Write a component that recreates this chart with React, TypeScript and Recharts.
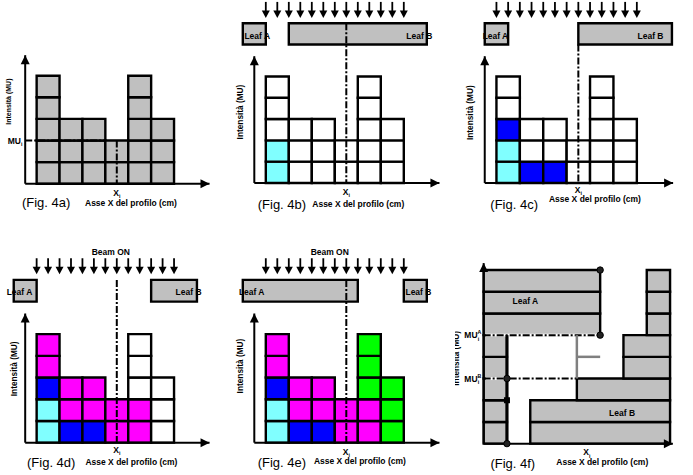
import React from 'react';
import { ComposedChart, XAxis, YAxis, ReferenceArea, ReferenceLine, Scatter } from 'recharts';

const FONT = "'Liberation Sans', Arial, Helvetica, sans-serif";

// colour codes used in the cell strings
const cellColors: Record<string, string> = {
  g: '#c0c0c0',
  w: '#ffffff',
  c: '#80ffff',
  b: '#0000ff',
  m: '#ff00ff',
  n: '#00ff00',
};

// intensity profile: one string per column, bottom row first
const profile4a = ['ggggg', 'ggg', 'ggg', 'gg', 'ggggg', 'ggg'];
const profile4b = ['ccwww', 'www', 'www', 'ww', 'wwwww', 'www'];
const profile4c = ['ccbww', 'bww', 'bww', 'ww', 'wwwww', 'www'];
const profile4d = ['ccbmm', 'bmm', 'bmm', 'mm', 'mmwww', 'www'];
const profile4e = ['ccbmm', 'bmm', 'bmm', 'mm', 'mmnnn', 'nnn'];

const beamArrowX = [0, 0.5, 1, 1.5, 2, 2.5, 3, 3.5, 4, 4.5, 5, 5.5, 6];
const xiPos = 3.5;
const muLevel4a = 2;

// leaf positions [left, right] in cell units
const leafA4b = [-1, 0];
const leafB4b = [1, 7];
const leafA4c = [-0.5, 0.5];
const leafB4c = [3.5, 7.5];
const leafA4d = [-1, 0];
const leafB4d = [5, 7];
const leafA4e = [-1, 4];
const leafB4e = [6, 7];

// fig 4f: leaf A right edge and leaf B left edge for each MU row
const leafAEnd4f = [1, 1, 1, 1, 1, 5, 5, 5];
const leafBStart4f = [2, 2, 4, 6, 6, 7, 7, 7];
const fieldEnd4f = 8;
const muA4f = 5;
const muB4f = 3;

type Geo = { x0: number; y0: number; cw: number; rh: number; xDomain: [number, number] };
type Label = {
  x: number;
  y: number;
  text: string;
  size: number;
  bold?: boolean;
  anchor?: string;
  rotate?: number;
  sub?: string;
  sup?: string;
};

const yDomain: [number, number] = [-1.6, 9.2];
const LEAF_Y: [number, number] = [6.5, 7.5];

const TextMark = (props: any) => {
  const { cx, cy, payload: d } = props;
  const small = d.size * 0.62;
  return (
    <text
      x={cx}
      y={cy}
      textAnchor={d.anchor || 'middle'}
      dominantBaseline="central"
      fontFamily={FONT}
      fontSize={d.size}
      fontWeight={d.bold ? 700 : 400}
      fill="#000"
      transform={d.rotate ? `rotate(${d.rotate} ${cx} ${cy})` : undefined}
    >
      {d.text}
      {d.sup && (
        <tspan fontSize={small} dy={-d.size * 0.35}>
          {d.sup}
        </tspan>
      )}
      {d.sub && (
        <tspan fontSize={small} dx={d.sup ? -small * 0.7 : 0} dy={d.sup ? d.size * 0.8 : d.size * 0.4}>
          {d.sub}
        </tspan>
      )}
    </text>
  );
};

const BeamArrow = (p: any) => (
  <g>
    <line x1={p.cx} y1={p.cy} x2={p.cx} y2={p.cy + 10} stroke="#000" strokeWidth={1.8} />
    <polygon points={`${p.cx - 4},${p.cy + 8.5} ${p.cx + 4},${p.cy + 8.5} ${p.cx},${p.cy + 16}`} fill="#000" />
  </g>
);

const AxisHead = (p: any) => {
  const { cx, cy, payload } = p;
  const pts =
    payload.dir === 'up'
      ? `${cx},${cy} ${cx - 4.5},${cy + 9} ${cx + 4.5},${cy + 9}`
      : `${cx},${cy} ${cx - 9},${cy - 4.5} ${cx - 9},${cy + 4.5}`;
  return <polygon points={pts} fill="#000" />;
};

const Marker = (p: any) => {
  const { cx, cy, payload } = p;
  if (payload.kind === 'sq') return <rect x={cx - 3} y={cy - 3} width={6} height={6} fill="#000" />;
  return <circle cx={cx} cy={cy} r={3.2} fill="#222" stroke="#000" strokeWidth={1} />;
};

const seg = (key: string, x1: number, y1: number, x2: number, y2: number, stroke = '#000', width = 2, dash?: string) => (
  <ReferenceLine
    key={key}
    segment={[{ x: x1, y: y1 }, { x: x2, y: y2 }]}
    stroke={stroke}
    strokeWidth={width}
    strokeDasharray={dash}
    ifOverflow="visible"
  />
);

const box = (key: string, x1: number, x2: number, y1: number, y2: number, fill: string, width = 2.4) => (
  <ReferenceArea
    key={key}
    x1={x1}
    x2={x2}
    y1={y1}
    y2={y2}
    fill={fill}
    fillOpacity={1}
    stroke="#000"
    strokeWidth={width}
    ifOverflow="visible"
  />
);

const cellAreas = (profile: string[]) =>
  profile.flatMap((col, i) => col.split('').map((k, j) => box(`c${i}-${j}`, i, i + 1, j, j + 1, cellColors[k])));

const DASH = '7 2 2 2';

function Frame({ geo, children }: { geo: Geo; children: React.ReactNode }) {
  const [d0, d1] = geo.xDomain;
  const width = (d1 - d0) * geo.cw;
  const height = (yDomain[1] - yDomain[0]) * geo.rh;
  const left = geo.x0 + d0 * geo.cw;
  const top = geo.y0 - yDomain[1] * geo.rh;
  return (
    <div style={{ position: 'absolute', left, top, width, height }}>
      <ComposedChart width={width} height={height} margin={{ top: 0, right: 0, bottom: 0, left: 0 }}>
        <XAxis type="number" dataKey="x" domain={geo.xDomain} hide allowDataOverflow />
        <YAxis type="number" dataKey="y" domain={yDomain} hide allowDataOverflow />
        {children}
      </ComposedChart>
    </div>
  );
}

type GridCfg = {
  geo: Geo;
  profile: string[];
  leafA?: number[];
  leafB?: number[];
  dashTop: number;
  labels: Label[];
  muLine?: number;
};

function GridPanel({ cfg }: { cfg: GridCfg }) {
  const heads = [
    { x: 7.55, y: 0, dir: 'right' },
    { x: -0.5, y: 5.95, dir: 'up' },
  ];
  return (
    <Frame geo={cfg.geo}>
      {cellAreas(cfg.profile)}
      {cfg.leafA && box('la', cfg.leafA[0], cfg.leafA[1], LEAF_Y[0], LEAF_Y[1], cellColors.g)}
      {cfg.leafB && box('lb', cfg.leafB[0], cfg.leafB[1], LEAF_Y[0], LEAF_Y[1], cellColors.g)}
      {seg('ax', -0.5, 0, 7.55, 0)}
      {seg('ay', -0.5, 0, -0.5, 5.95)}
      {cfg.muLine !== undefined && seg('mu', -0.5, cfg.muLine, 3, cfg.muLine, '#000', 2, DASH)}
      {seg('xi', xiPos, cfg.dashTop, xiPos, 0, '#000', 2, DASH)}
      <Scatter data={heads} shape={AxisHead} isAnimationActive={false} />
      {cfg.leafA && (
        <Scatter data={beamArrowX.map((x) => ({ x, y: 8.5 }))} shape={BeamArrow} isAnimationActive={false} />
      )}
      <Scatter data={cfg.labels} shape={TextMark} isAnimationActive={false} />
    </Frame>
  );
}

const yLabel = (x: number, y: number, size = 8.3): Label => ({
  x,
  y,
  text: 'Intensità (MU)',
  size,
  bold: true,
  rotate: -90,
});
const xiLabel = (x: number, y: number): Label => ({ x, y, text: 'X', sub: 'i', size: 8.5, bold: true });
const caption = (x: number, y: number, fig: string): Label => ({ x, y, text: `(Fig. ${fig})`, size: 13, anchor: 'start' });
const axisTitle = (x: number, y: number): Label => ({ x, y, text: 'Asse X del profilo (cm)', size: 8.5, bold: true });
const leafText = (x: number, y: number, text: string, anchor: string): Label => ({
  x,
  y,
  text,
  size: 8.5,
  bold: true,
  anchor,
});
const beamOn = (x: number): Label => ({ x, y: 8.78, text: 'Beam ON', size: 8.5, bold: true });

const panels: GridCfg[] = [
  {
    geo: { x0: 36.7, y0: 184, cw: 22.9, rh: 21.6, xDomain: [-1.6, 8.4] },
    profile: profile4a,
    dashTop: muLevel4a,
    muLine: muLevel4a,
    labels: [
      { x: -0.62, y: muLevel4a, text: 'MU', sub: 'i', size: 8.5, bold: true, anchor: 'end' },
      xiLabel(xiPos, -0.42),
      caption(-0.64, -0.88, '4a'),
      axisTitle(4.12, -0.88),
      yLabel(-1.23, 3.8, 7),
    ],
  },
  {
    geo: { x0: 266, y0: 183, cw: 23, rh: 21.3, xDomain: [-1.6, 8.4] },
    profile: profile4b,
    leafA: leafA4b,
    leafB: leafB4b,
    dashTop: LEAF_Y[1],
    labels: [
      leafText(-0.93, 6.9, 'Leaf A', 'start'),
      leafText(7.24, 6.9, 'Leaf B', 'end'),
      xiLabel(xiPos, -0.42),
      caption(-0.35, -0.99, '4b'),
      axisTitle(4.02, -0.99),
      yLabel(-1.11, 3.33),
    ],
  },
  {
    geo: { x0: 496, y0: 183, cw: 23.4, rh: 21.3, xDomain: [-1.6, 8.4] },
    profile: profile4c,
    leafA: leafA4c,
    leafB: leafB4c,
    dashTop: LEAF_Y[0],
    labels: [
      leafText(-0.59, 6.9, 'Leaf A', 'start'),
      leafText(7.14, 6.9, 'Leaf B', 'end'),
      xiLabel(xiPos, -0.33),
      caption(-0.26, -0.99, '4c'),
      axisTitle(4.21, -0.74),
      yLabel(-1.11, 3.3),
    ],
  },
  {
    geo: { x0: 36.7, y0: 443, cw: 22.9, rh: 21.7, xDomain: [-1.6, 8.4] },
    profile: profile4d,
    leafA: leafA4d,
    leafB: leafB4d,
    dashTop: LEAF_Y[1],
    labels: [
      beamOn(3.24),
      leafText(-1.31, 6.93, 'Leaf A', 'start'),
      leafText(7.2, 6.93, 'Leaf B', 'end'),
      xiLabel(xiPos, -0.32),
      caption(-0.42, -0.92, '4d'),
      axisTitle(4.14, -0.88),
      yLabel(-0.97, 3.4),
    ],
  },
  {
    geo: { x0: 266, y0: 443, cw: 23, rh: 21.7, xDomain: [-1.6, 8.4] },
    profile: profile4e,
    leafA: leafA4e,
    leafB: leafB4e,
    dashTop: LEAF_Y[1],
    labels: [
      beamOn(2.78),
      leafText(-1.17, 6.93, 'Leaf A', 'start'),
      leafText(7.2, 6.93, 'Leaf B', 'end'),
      xiLabel(xiPos, -0.41),
      caption(-0.35, -0.92, '4e'),
      axisTitle(4.09, -0.83),
      yLabel(-1.11, 3.53),
    ],
  },
];

function LeafTrajectoryPanel() {
  const geo: Geo = { x0: 483.3, y0: 443.3, cw: 23.3, rh: 21.7, xDomain: [-1.23, 8.77] };
  const rowsA = leafAEnd4f.map((end, r) => box(`a${r}`, 0, end, r, r + 1, cellColors.g));
  const rowsB = leafBStart4f.map((start, r) => box(`b${r}`, start, fieldEnd4f, r, r + 1, cellColors.g));
  const heads = [
    { x: 8.12, y: 0, dir: 'right' },
    { x: 0, y: 8.32, dir: 'up' },
  ];
  const markers = [
    { x: leafAEnd4f[7], y: 8, kind: 'dot' },
    { x: leafAEnd4f[7], y: muA4f, kind: 'dot' },
    { x: leafAEnd4f[0], y: muB4f, kind: 'dot' },
    { x: leafAEnd4f[0], y: 0, kind: 'dot' },
    { x: leafAEnd4f[0], y: 2, kind: 'sq' },
  ];
  const labels: Label[] = [
    { x: -0.1, y: muA4f, text: 'MU', sup: 'A', sub: 'i', size: 8.5, bold: true, anchor: 'end' },
    { x: -0.1, y: muB4f, text: 'MU', sup: 'B', sub: 'i', size: 8.5, bold: true, anchor: 'end' },
    { x: 1.79, y: 6.56, text: 'Leaf A', size: 8.5, bold: true },
    { x: 5.94, y: 1.43, text: 'Leaf B', size: 8.5, bold: true },
    xiLabel(4.43, -0.4),
    caption(0.29, -0.91, '4f'),
    axisTitle(5.09, -0.85),
    yLabel(-1.2, 3.93),
  ];
  return (
    <Frame geo={geo}>
      {rowsA}
      {rowsB}
      {seg('ax', 0, 0, 8.12, 0)}
      {seg('ay', 0, 0, 0, 8.32)}
      {seg('wa', 0.08, muA4f, 5, muA4f, '#fff', 3)}
      {seg('wb', 0.08, muB4f, 1, muB4f, '#fff', 3)}
      {seg('mua', 0, muA4f, leafAEnd4f[7], muA4f, '#000', 2, DASH)}
      {seg('mub', 0, muB4f, leafBStart4f[2], muB4f, '#000', 2, DASH)}
      {seg('edge', leafAEnd4f[0], 0, leafAEnd4f[0], muA4f, '#000', 3)}
      {seg('gv', leafBStart4f[2], muB4f, leafBStart4f[2], muA4f, '#808080', 2.5)}
      {seg('gh', leafBStart4f[2], 4, leafAEnd4f[7], 4, '#808080', 2.5)}
      <Scatter data={heads} shape={AxisHead} isAnimationActive={false} />
      <Scatter data={markers} shape={Marker} isAnimationActive={false} />
      <Scatter data={labels} shape={TextMark} isAnimationActive={false} />
    </Frame>
  );
}

export default function App() {
  return (
    <div
      style={{
        position: 'absolute',
        left: 0,
        top: 0,
        width: 693,
        height: 475,
        background: '#fff',
        overflow: 'hidden',
      }}
    >
      {panels.map((cfg, i) => (
        <GridPanel key={i} cfg={cfg} />
      ))}
      <LeafTrajectoryPanel />
    </div>
  );
}
